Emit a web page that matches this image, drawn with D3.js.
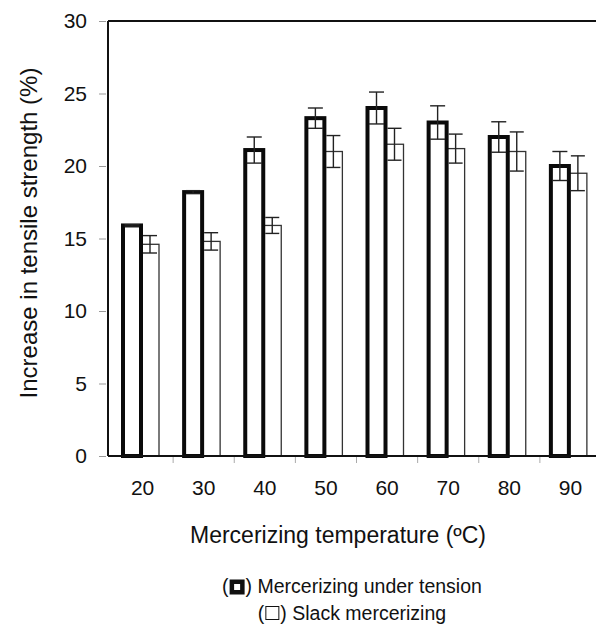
<!DOCTYPE html>
<html>
<head>
<meta charset="utf-8">
<script src="https://cdn.jsdelivr.net/npm/d3@7"></script>
<style>
  body { margin: 0; background: #fff; }
  text { font-family: "Liberation Sans", Arial, sans-serif; fill: #111; }
</style>
</head>
<body>
<div id="chart"></div>
<script>
const temps = ['20', '30', '40', '50', '60', '70', '80', '90'];
const tension = [15.9, 18.2, 21.1, 23.3, 24.0, 23.0, 22.0, 20.0];
const tensionErr = [0.05, 0.1, 0.9, 0.7, 1.1, 1.15, 1.05, 1.0];
const slack = [14.6, 14.8, 15.9, 21.0, 21.5, 21.2, 21.0, 19.5];
const slackErr = [0.6, 0.6, 0.55, 1.1, 1.1, 1.0, 1.35, 1.2];
const yTicks = [0, 5, 10, 15, 20, 25, 30];

const W = 596, H = 628;
const plot = { left: 108, top: 21, bottom: 456 };

const svg = d3.select('#chart').append('svg')
  .attr('width', W)
  .attr('height', H);

const x = d3.scaleBand()
  .domain(temps)
  .range([112, 601])
  .paddingInner(0);

const xs = d3.scaleBand()
  .domain(['tension', 'slack'])
  .range([11, 47]);

const y = d3.scaleLinear()
  .domain([0, 30])
  .range([plot.bottom, plot.top]);

// top frame line
svg.append('line')
  .attr('x1', plot.left).attr('x2', W)
  .attr('y1', y(30)).attr('y2', y(30))
  .attr('stroke', '#111').attr('stroke-width', 2);

// y axis
const yAxis = svg.append('g')
  .attr('transform', `translate(${plot.left},0)`)
  .call(d3.axisLeft(y).tickValues(yTicks).tickSize(7).tickPadding(14).tickSizeOuter(0));
yAxis.select('.domain').remove();
yAxis.selectAll('line').attr('stroke', '#999').attr('transform', 'translate(-2,0)');
yAxis.selectAll('text').style('font-size', '21px').attr('font-family', null);

// x axis labels
const xAxis = svg.append('g')
  .attr('transform', `translate(0,${plot.bottom})`)
  .call(d3.axisBottom(x).tickSize(0).tickPadding(24));
xAxis.select('.domain').remove();
xAxis.selectAll('text').style('font-size', '21px').attr('font-family', null);

// boundary ticks
svg.append('g').selectAll('line')
  .data(temps.slice(1))
  .join('line')
  .attr('x1', d => x(d)).attr('x2', d => x(d))
  .attr('y1', plot.bottom).attr('y2', plot.bottom + 7)
  .attr('stroke', '#aaa').attr('stroke-width', 1);

// bars
const groups = svg.append('g').selectAll('g')
  .data(temps)
  .join('g')
  .attr('transform', d => `translate(${x(d)},0)`);

groups.append('rect')
  .attr('x', xs('slack'))
  .attr('width', xs.bandwidth())
  .attr('y', (d, i) => y(slack[i]))
  .attr('height', (d, i) => y(0) - y(slack[i]))
  .attr('fill', '#fff')
  .attr('stroke', '#333')
  .attr('stroke-width', 1.3);

groups.append('rect')
  .attr('x', xs('tension'))
  .attr('width', xs.bandwidth())
  .attr('y', (d, i) => y(tension[i]))
  .attr('height', (d, i) => y(0) - y(tension[i]))
  .attr('fill', '#fff')
  .attr('stroke', '#0a0a0a')
  .attr('stroke-width', 4);

// error bars
function errorBars(key, vals, errs, cap) {
  const cx = xs(key) + xs.bandwidth() / 2;
  const g = groups.append('g').attr('stroke', '#222').attr('stroke-width', 1.4);
  g.append('line')
    .attr('x1', cx).attr('x2', cx)
    .attr('y1', (d, i) => y(vals[i] - errs[i]))
    .attr('y2', (d, i) => y(vals[i] + errs[i]));
  g.append('line')
    .attr('x1', cx - cap / 2).attr('x2', cx + cap / 2)
    .attr('y1', (d, i) => y(vals[i] + errs[i]))
    .attr('y2', (d, i) => y(vals[i] + errs[i]));
  g.append('line')
    .attr('x1', cx - cap / 2).attr('x2', cx + cap / 2)
    .attr('y1', (d, i) => y(vals[i] - errs[i]))
    .attr('y2', (d, i) => y(vals[i] - errs[i]));
}
errorBars('slack', slack, slackErr, 14);
errorBars('tension', tension, tensionErr, 15);

// axes lines
svg.append('line')
  .attr('x1', plot.left).attr('x2', plot.left)
  .attr('y1', y(30)).attr('y2', y(0))
  .attr('stroke', '#111').attr('stroke-width', 2);
svg.append('line')
  .attr('x1', plot.left).attr('x2', W)
  .attr('y1', y(0)).attr('y2', y(0))
  .attr('stroke', '#111').attr('stroke-width', 2);

// axis titles
svg.append('text')
  .attr('transform', 'translate(37,233) rotate(-90)')
  .attr('text-anchor', 'middle')
  .style('font-size', '24px')
  .text('Increase in tensile strength (%)');

svg.append('text')
  .attr('x', 338)
  .attr('y', 543)
  .attr('text-anchor', 'middle')
  .style('font-size', '23px')
  .text('Mercerizing temperature (ºC)');

// legend
function legendRow(cy, baseline, label, sw, box) {
  const g = svg.append('g');
  const open = g.append('text').attr('y', baseline).style('font-size', '19.5px').text('(');
  const rest = g.append('text').attr('y', baseline).style('font-size', '19.5px').text(') ' + label);
  const ow = open.node().getComputedTextLength();
  const rw = rest.node().getComputedTextLength();
  const gap = 1;
  const total = ow + gap + box + gap + rw;
  const x0 = 352 - total / 2;
  open.attr('x', x0);
  g.append('rect')
    .attr('x', x0 + ow + gap + sw / 2)
    .attr('y', cy - box / 2 + sw / 2)
    .attr('width', box - sw)
    .attr('height', box - sw)
    .attr('fill', '#fff')
    .attr('stroke', '#111')
    .attr('stroke-width', sw);
  rest.attr('x', x0 + ow + gap + box + gap);
}
legendRow(587, 593, 'Mercerizing under tension', 4.5, 15);
legendRow(613, 620, 'Slack mercerizing', 1, 14);
</script>
</body>
</html>
